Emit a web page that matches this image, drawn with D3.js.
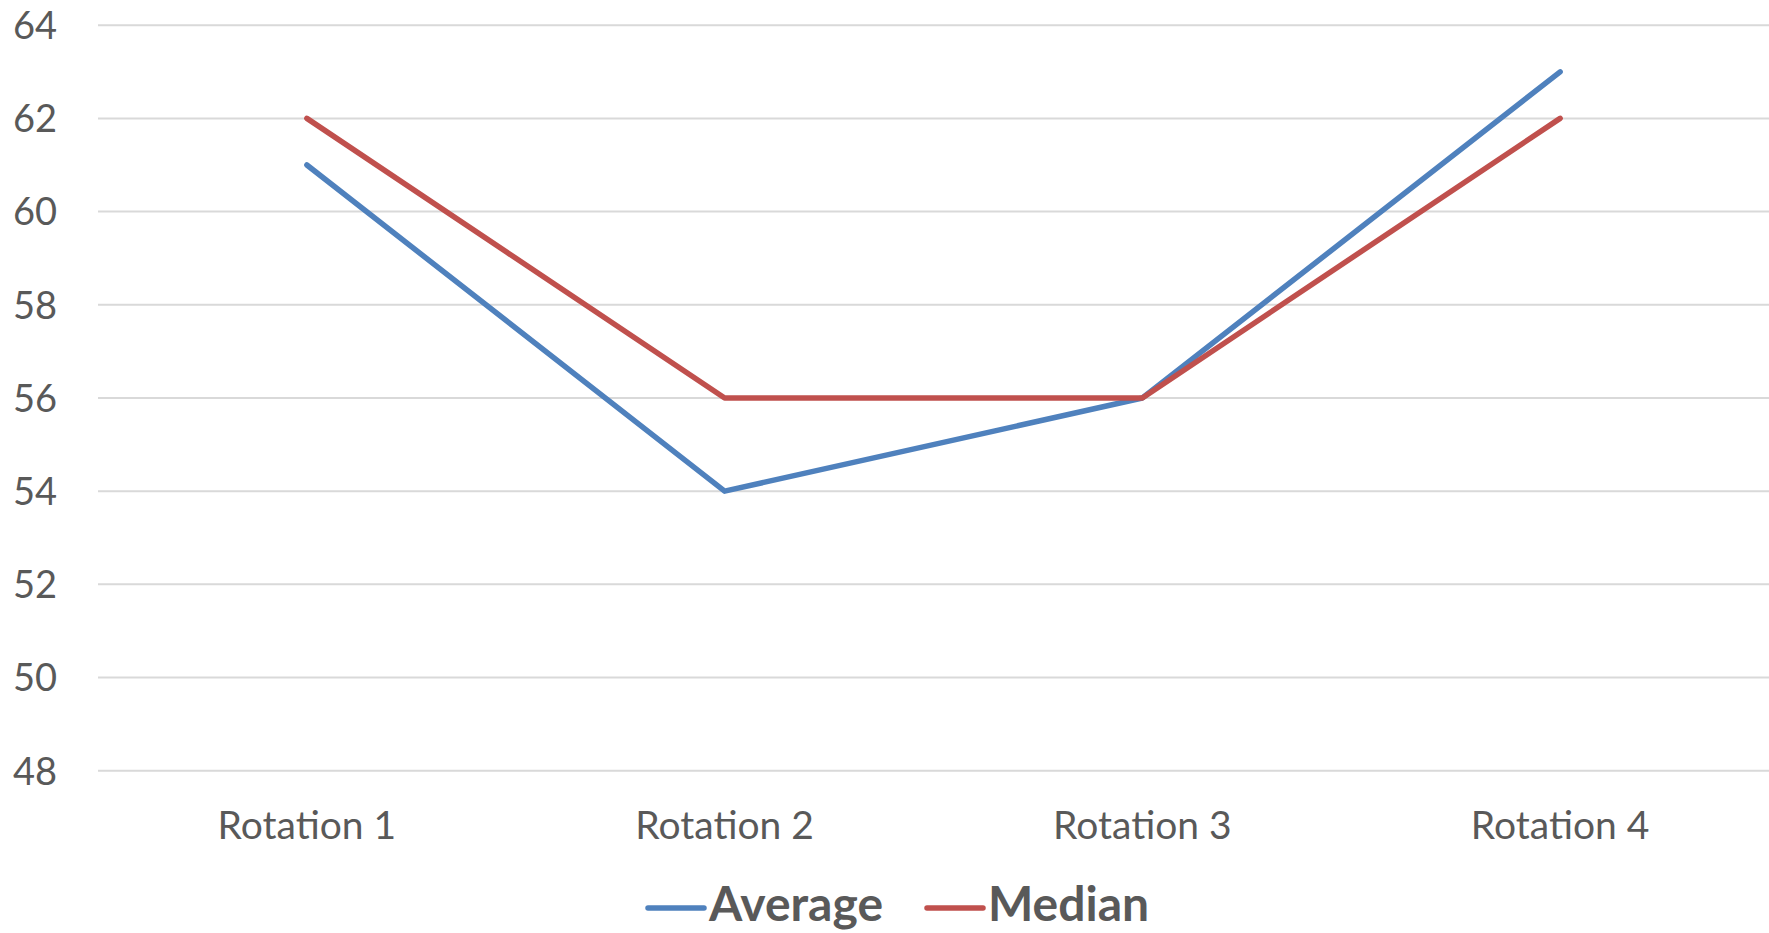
<!DOCTYPE html>
<html>
<head>
<meta charset="utf-8">
<script src="https://cdn.jsdelivr.net/npm/d3@7"></script>
<style>
  html, body { margin: 0; padding: 0; background: #ffffff; }
  svg { display: block; }
</style>
</head>
<body>
<svg id="chart" width="1769" height="933"></svg>
<script>
// Rotation results
const categories = ["Rotation 1", "Rotation 2", "Rotation 3", "Rotation 4"];
const averageValues = [61, 54, 56, 63];
const medianValues = [62, 56, 56, 62];
const yTicks = [48, 50, 52, 54, 56, 58, 60, 62, 64];
const seriesNames = ["Average", "Median"];
const seriesColors = ["#4f81bd", "#c0504d"];

const series = [
  { name: seriesNames[0], values: averageValues, color: seriesColors[0] },
  { name: seriesNames[1], values: medianValues, color: seriesColors[1] }
];

const plot = { left: 98, right: 1769, top: 25.2, bottom: 770.7 };
const textColor = "#595959";
const fontFamily = "Lato, 'Liberation Sans', sans-serif";

const svg = d3.select("#chart");

const x = d3.scaleBand()
  .domain(categories)
  .range([plot.left, plot.right])
  .paddingInner(0).paddingOuter(0);

const y = d3.scaleLinear()
  .domain([48, 64])
  .range([plot.bottom, plot.top]);

const cx = c => x(c) + x.bandwidth() / 2;

// Horizontal gridlines
svg.append("g")
  .selectAll("line")
  .data(yTicks)
  .join("line")
  .attr("x1", plot.left)
  .attr("x2", plot.right)
  .attr("y1", d => y(d))
  .attr("y2", d => y(d))
  .attr("stroke", "#d9d9d9")
  .attr("stroke-width", 2);

// Y axis labels
const yAxis = d3.axisLeft(y).tickValues(yTicks).tickSize(0).tickPadding(0);
const yg = svg.append("g")
  .attr("transform", `translate(57,0)`)
  .call(yAxis);
yg.select(".domain").remove();
yg.selectAll("text")
  .attr("fill", textColor)
  .attr("font-family", fontFamily)
  .attr("font-size", 38)
  .attr("dy", "0.35em");

// X axis labels
const xAxis = d3.axisBottom(x).tickSize(0).tickPadding(0);
const xg = svg.append("g").call(xAxis);
xg.select(".domain").remove();
xg.selectAll("text")
  .attr("y", 839)
  .attr("dy", 0)
  .attr("fill", textColor)
  .attr("font-family", fontFamily)
  .attr("font-size", 39);

// Series lines
const line = d3.line()
  .x((d, i) => cx(categories[i]))
  .y(d => y(d));

svg.append("g")
  .selectAll("path")
  .data(series)
  .join("path")
  .attr("d", d => line(d.values))
  .attr("fill", "none")
  .attr("stroke", d => d.color)
  .attr("stroke-width", 5.5)
  .attr("stroke-linecap", "round")
  .attr("stroke-linejoin", "round");

// Legend
const legendItems = [
  { name: series[0].name, color: series[0].color, x0: 648 },
  { name: series[1].name, color: series[1].color, x0: 927 }
];
const lg = svg.append("g");
const item = lg.selectAll("g").data(legendItems).join("g");
item.append("line")
  .attr("x1", d => d.x0)
  .attr("x2", d => d.x0 + 56)
  .attr("y1", 908)
  .attr("y2", 908)
  .attr("stroke", d => d.color)
  .attr("stroke-width", 5.5)
  .attr("stroke-linecap", "round");
item.append("text")
  .attr("x", d => d.x0 + 61)
  .attr("y", 921)
  .attr("fill", textColor)
  .attr("font-family", fontFamily)
  .attr("font-weight", "bold")
  .attr("font-size", 48)
  .text(d => d.name);
</script>
</body>
</html>
